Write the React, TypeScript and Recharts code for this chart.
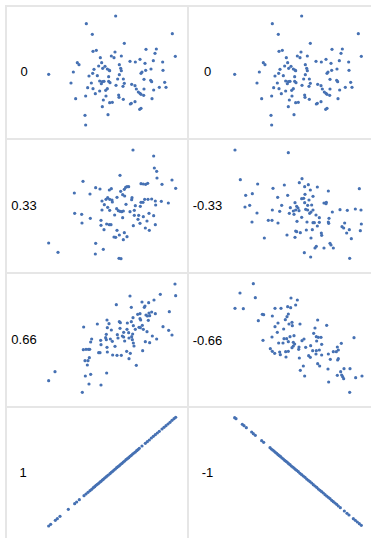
import React from "react";
import { ScatterChart, Scatter, XAxis, YAxis } from "recharts";

type Pt = [number, number];

// Values (arbitrary units, no axes shown)
const corr0: Pt[] = [
  [347,372],[259,349],[517,319],[277,317],[373,290],[279,266],[289,269],[438,272],[469,273],[465,260],
  [345,264],[334,252],[342,247],[364,252],[526,251],[301,247],[390,236],[406,234],[420,242],[460,238],
  [488,234],[435,230],[232,232],[237,226],[305,232],[358,226],[296,222],[315,221],[322,213],[308,215],
  [282,212],[362,215],[364,208],[327,210],[329,208],[453,213],[437,209],[489,209],[220,204],[278,200],
  [426,204],[423,200],[292,193],[267,192],[326,190],[358,196],[146,197],[353,183],[370,183],[432,182],
  [452,179],[455,175],[299,177],[307,175],[312,176],[326,176],[330,172],[274,171],[304,169],[213,171],
  [494,173],[373,170],[348,164],[369,161],[395,167],[405,163],[263,157],[279,154],[322,154],[409,153],
  [478,158],[498,158],[432,153],[461,150],[299,147],[317,149],[415,144],[420,140],[286,139],[318,132],
  [356,135],[357,128],[423,137],[431,134],[257,132],[227,124],[310,120],[370,122],[456,124],[329,112],
  [337,113],[394,110],[391,108],[405,115],[307,100],[423,95],[419,92],[324,76],[255,74],[257,45],
];

const corrPos33: Pt[] = [
  [399,378],[461,360],[463,324],[470,314],[471,294],[360,302],[249,284],[516,288],[527,263],[486,275],
  [423,277],[430,276],[437,275],[443,278],[287,265],[300,261],[328,258],[334,262],[373,260],[377,266],
  [381,268],[386,268],[223,249],[270,246],[362,254],[374,240],[368,244],[351,236],[323,235],[318,230],
  [329,230],[336,228],[434,230],[444,230],[455,231],[396,235],[395,229],[466,225],[484,224],[467,213],
  [505,219],[306,225],[337,222],[423,221],[429,221],[421,209],[378,215],[406,211],[313,214],[323,206],
  [350,202],[355,196],[360,194],[365,193],[370,195],[306,198],[329,197],[403,197],[390,193],[447,188],
  [461,181],[224,188],[245,185],[344,183],[368,175],[271,173],[303,167],[403,182],[416,182],[414,170],
  [430,178],[441,165],[246,159],[303,152],[320,156],[328,154],[333,154],[400,151],[420,158],[466,154],
  [436,144],[448,137],[312,139],[351,137],[373,130],[358,123],[342,117],[347,116],[381,118],[370,109],
  [287,98],[146,99],[174,71],[310,80],[286,66],[357,53],[363,52],
];

const corrNeg33: Pt[] = [
  [150,378],[310,370],[166,289],[218,276],[298,273],[351,292],[343,280],[370,274],[359,268],[264,263],
  [397,267],[523,262],[376,258],[202,247],[182,242],[360,245],[430,255],[384,239],[308,242],[278,236],
  [350,232],[356,233],[372,228],[194,212],[180,207],[290,212],[330,220],[359,220],[368,212],[380,213],
  [417,219],[424,221],[423,217],[316,205],[335,209],[339,204],[332,198],[342,196],[325,195],[362,200],
  [368,198],[374,188],[378,192],[384,198],[262,198],[284,194],[216,189],[313,188],[350,176],[327,185],
  [465,199],[487,197],[511,201],[528,198],[442,192],[393,183],[403,175],[432,173],[250,167],[261,167],
  [201,162],[279,159],[336,164],[366,162],[384,160],[388,160],[403,161],[430,162],[431,158],[479,159],
  [529,156],[397,150],[471,148],[476,144],[493,139],[382,139],[364,138],[526,136],[332,135],[335,133],
  [346,130],[409,129],[410,122],[485,129],[306,123],[330,116],[238,114],[499,112],[378,114],[435,98],
  [438,93],[445,84],[394,89],[390,84],[417,84],[358,70],[377,57],[494,53],
];

const corrPos66: Pt[] = [
  [525,378],[527,343],[481,347],[390,342],[462,330],[446,322],[426,324],[435,312],[433,308],[394,308],
  [349,316],[508,295],[466,289],[455,294],[447,291],[449,283],[438,285],[442,282],[420,289],[413,287],
  [399,277],[394,265],[420,274],[422,270],[321,270],[292,258],[358,265],[361,262],[327,259],[382,261],
  [445,269],[400,253],[427,254],[417,248],[421,247],[430,242],[489,250],[251,249],[322,247],[360,245],
  [334,240],[381,242],[386,232],[406,242],[371,233],[441,235],[506,239],[516,225],[319,227],[352,226],
  [367,222],[371,219],[398,228],[395,220],[457,222],[470,213],[275,213],[302,209],[272,204],[317,217],
  [319,211],[331,213],[354,216],[387,216],[374,207],[397,211],[400,201],[402,192],[436,205],[449,202],
  [337,206],[303,196],[345,191],[321,188],[250,181],[258,182],[265,182],[269,182],[380,176],[428,178],
  [296,172],[300,172],[322,174],[338,165],[351,164],[364,164],[391,170],[268,157],[255,148],[264,148],
  [387,154],[262,135],[409,134],[165,115],[320,111],[256,102],[272,107],[146,88],[267,78],[303,75],[247,53],
];

const corrNeg66: Pt[] = [
  [205,379],[165,351],[211,337],[318,336],[337,330],[150,305],[175,304],[332,315],[308,310],[317,307],
  [270,305],[288,305],[232,287],[236,286],[310,288],[262,282],[301,271],[306,280],[220,268],[279,261],
  [321,263],[345,258],[312,258],[322,253],[398,270],[425,254],[296,243],[270,250],[390,246],[277,233],
  [386,230],[327,223],[315,220],[297,214],[305,214],[261,219],[234,209],[357,213],[351,208],[394,220],
  [400,218],[408,218],[507,217],[281,201],[294,201],[310,205],[325,203],[329,198],[395,207],[469,200],
  [410,197],[321,187],[325,192],[342,189],[362,188],[377,193],[310,176],[256,184],[262,176],[269,170],
  [284,174],[286,166],[302,175],[341,182],[383,178],[394,178],[403,180],[457,189],[460,180],[454,175],
  [445,175],[303,159],[343,156],[371,163],[376,158],[393,168],[410,165],[430,168],[436,152],[458,150],
  [460,154],[398,139],[404,132],[355,132],[346,119],[429,123],[477,124],[495,124],[467,115],[359,102],
  [457,104],[470,105],[473,100],[476,94],[512,97],[531,102],[431,84],[494,53],
];

const corrPos1: Pt[] = [
  [146,54],[152,59],[166,71],[172,76],[180,83],[205,104],[224,121],[230,126],[238,133],[252,145],
  [258,150],[264,155],[270,160],[275,164],[280,169],[284,172],[288,176],[292,179],[296,182],[300,186],
  [303,188],[307,192],[310,194],[314,198],[318,201],[321,204],[325,207],[330,211],[334,215],[338,218],
  [342,222],[346,225],[350,229],[354,232],[358,235],[362,239],[366,242],[370,246],[374,249],[378,253],
  [382,256],[386,259],[390,263],[394,266],[398,270],[402,273],[406,276],[410,280],[414,283],[418,287],
  [426,294],[436,302],[442,307],[448,312],[454,318],[460,323],[466,328],[472,333],[478,338],[486,345],
  [492,350],[498,355],[504,360],[510,365],[516,371],[522,376],[527,380],
];

const corrNeg1: Pt[] = [
  [149,379],[153,376],[172,359],[177,355],[184,349],[200,336],[205,331],[211,326],[230,310],[236,305],
  [255,289],[259,285],[263,282],[267,279],[271,275],[275,272],[279,268],[283,265],[287,262],[291,258],
  [295,255],[299,251],[303,248],[307,245],[311,241],[315,238],[319,234],[323,231],[327,228],[331,224],
  [335,221],[340,217],[345,212],[350,208],[355,204],[360,200],[365,195],[370,191],[375,187],[380,183],
  [385,178],[390,174],[395,170],[400,165],[405,161],[410,157],[415,153],[420,148],[425,144],[430,140],
  [435,136],[440,131],[445,127],[450,123],[455,119],[460,114],[466,109],[478,99],[486,92],[492,87],
  [505,76],[511,71],[517,66],[523,61],[529,56],
];

const labels = ["0", "0", "0.33", "-0.33", "0.66", "-0.66", "1", "-1"];

const DOT = "#4671b3";
const GRID = "#e6e6e6";

const panels = [
  { label: labels[0], data: corr0, left: 0, top: 0, lx: 24 },
  { label: labels[1], data: corr0, left: 186.3, top: 0, lx: 207.5 },
  { label: labels[2], data: corrPos33, left: 0, top: 136, lx: 24 },
  { label: labels[3], data: corrNeg33, left: 185, top: 136, lx: 207.5 },
  { label: labels[4], data: corrPos66, left: 0, top: 270, lx: 24 },
  { label: labels[5], data: corrNeg66, left: 185, top: 270, lx: 207.5 },
  { label: labels[6], data: corrPos1, left: 0, top: 404, lx: 23 },
  { label: labels[7], data: corrNeg1, left: 185, top: 404, lx: 207.5 },
];

const labelY = [71, 71, 205, 205, 339, 340, 472, 472];

const Dot = (props: any) => {
  if (props.cx == null || props.cy == null) return null;
  return <circle cx={props.cx} cy={props.cy} r={1.6} fill={DOT} />;
};

function Panel({ data, left, top }: { data: Pt[]; left: number; top: number }) {
  const rows = data.map(([x, y]) => ({ x, y }));
  return (
    <div style={{ position: "absolute", left, top, width: 186, height: 140 }}>
      <ScatterChart width={186} height={140} margin={{ top: 0, right: 0, bottom: 0, left: 0 }}>
        <XAxis type="number" dataKey="x" domain={[0, 558]} hide />
        <YAxis type="number" dataKey="y" domain={[0, 420]} hide />
        <Scatter data={rows} shape={Dot} isAnimationActive={false} />
      </ScatterChart>
    </div>
  );
}

export default function App() {
  const lineStyle = (l: number, t: number, w: number, h: number): React.CSSProperties => ({
    position: "absolute",
    left: l,
    top: t,
    width: w,
    height: h,
    background: GRID,
  });
  return (
    <div
      style={{
        position: "absolute",
        left: 0,
        top: 0,
        width: 371,
        height: 538,
        overflow: "hidden",
        background: "#fff",
        fontFamily: "'Liberation Sans', Arial, Helvetica, sans-serif",
      }}
    >
      <div style={lineStyle(5, 5, 2, 540)} />
      <div style={lineStyle(187, 5, 2, 540)} />
      <div style={lineStyle(5, 5, 366, 2)} />
      <div style={lineStyle(5, 138, 366, 2)} />
      <div style={lineStyle(5, 272, 366, 2)} />
      <div style={lineStyle(5, 406, 366, 2)} />
      {panels.map((p, i) => (
        <Panel key={i} data={p.data} left={p.left} top={p.top} />
      ))}
      {panels.map((p, i) => (
        <div
          key={"l" + i}
          style={{
            position: "absolute",
            left: p.lx,
            top: labelY[i],
            transform: "translate(-50%, -50%)",
            fontSize: 13,
            color: "#000",
            whiteSpace: "nowrap",
            lineHeight: 1,
          }}
        >
          {p.label}
        </div>
      ))}
    </div>
  );
}
